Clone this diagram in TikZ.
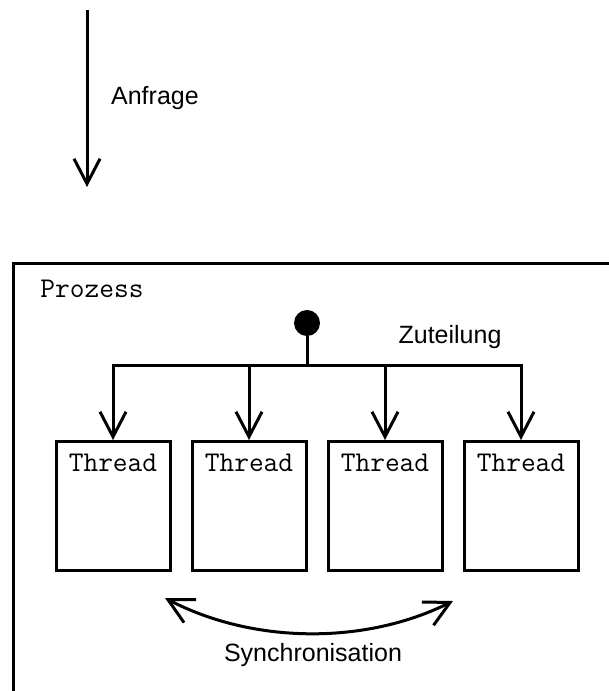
\documentclass[tikz,border=0pt]{standalone}
\usepackage{fontspec}
\setmainfont{Liberation Sans}
\usetikzlibrary{positioning, arrows.meta}

\begin{document}
\begin{tikzpicture}[x=0.5pt, y=-0.5pt,
        >={Straight Barb[length=12.5pt, width=13pt]},
        line/.style={line width=1.5pt},
        txt/.style={font=\fontsize{12.5}{15}\selectfont},
        mono/.style={font=\ttfamily\fontsize{14.3}{17}\selectfont},
        thr/.style={draw, line width=1.5pt, inner sep=0pt,
                    minimum width=57pt, minimum height=64.5pt,
                    label={[mono, anchor=north, yshift=-3.5pt]north:Thread}},
        disp/.style={circle, fill, inner sep=0pt, minimum size=13pt},
    ]
        \useasboundingbox (0,0) rectangle (609,691);

        % request coming in from outside
        \coordinate (Rs) at (87,10);
        \coordinate (Re) at (87,187);
        \draw[line, ->] (Rs) -- node[right=8pt, txt] {Anfrage} (Re);

        % process frame, runs off the page
        \draw[line] (13,700) -- (13,263) -- (620,263);
        \node[mono] (P) at (92,289) {Prozess};

        % dispatcher
        \node[disp] (D) at (307,323) {};
        \node[txt] (Z) at (450,337) {Zuteilung};
        \coordinate (Dj) at (307,365);

        % threads
        \node[thr] (T1) at (113,506) {};
        \node[thr, right=9.5pt of T1] (T2) {};
        \node[thr, right=9.5pt of T2] (T3) {};
        \node[thr, right=9.5pt of T3] (T4) {};

        % dispatch lines
        \draw[line] (D) -- (Dj);
        \draw[line, ->] (Dj) -| (T1.north);
        \draw[line, ->] (Dj) -| (T4.north);
        \foreach \t in {T2,T3}
            \draw[line, ->] (\t.north |- Dj) -- (\t.north);

        % synchronisation between threads
        \coordinate (S1) at (165,598);
        \coordinate (S2) at (453,601);
        \draw[line, <->] (S1) .. controls (253,644) and (365,645) .. (S2);
        \node[txt] (S) at (313,655) {Synchronisation};
    \end{tikzpicture}
\end{document}
